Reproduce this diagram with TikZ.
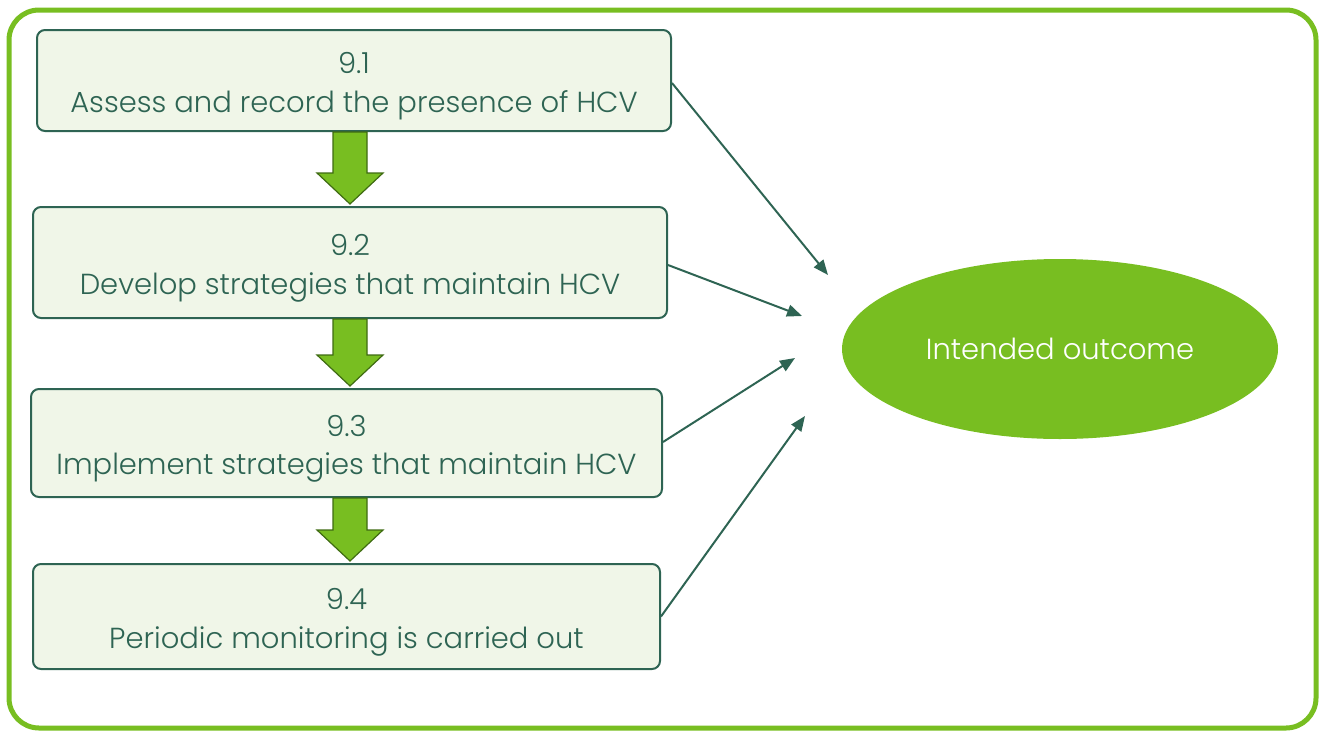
\documentclass[tikz,border=0pt]{standalone}
\usepackage{fontspec}
\setmainfont{Poppins Light}
\usetikzlibrary{shapes.geometric,arrows.meta,calc}
\definecolor{leaf}{HTML}{78BE21}
\definecolor{leafdark}{HTML}{3F6B12}
\definecolor{pine}{HTML}{2E6453}
\definecolor{pale}{HTML}{F0F6E8}
\tikzset{
  frame/.style={draw=leaf, line width=5pt, rounded corners=30pt},
  stepbox/.style={draw=pine, fill=pale, line width=2pt, rounded corners=8pt,
    align=center, text=pine, font=\fontsize{29}{38.5}\selectfont, inner sep=0pt,
    execute at begin node={\rule{0pt}{71pt}}},
  outcome/.style={ellipse, fill=leaf, text=white, inner sep=0pt,
    minimum width=436pt, minimum height=180pt, font=\fontsize{29}{34}\selectfont},
  blockarrow/.style={fill=leaf, draw=leafdark, line width=1.2pt, line join=miter},
  link/.style={draw=pine, line width=2pt, -{Triangle[length=15pt,width=12pt]}}
}
\begin{document}
\begin{tikzpicture}[x=1pt,y=-1pt]
\useasboundingbox (0,0) rectangle (1319,731);
\draw[frame] (9,10) rectangle (1316,728);

\node[stepbox, minimum width=634pt, minimum height=101pt] (b1) at (354,80.5) {9.1\\Assess and record the presence of HCV};
\node[stepbox, minimum width=634pt, minimum height=111pt] (b2) at (350,262.5) {9.2\\Develop strategies that maintain HCV};
\node[stepbox, minimum width=631pt, minimum height=108pt] (b3) at (346.5,443) {9.3\\Implement strategies that maintain HCV};
\node[stepbox, minimum width=627pt, minimum height=105pt] (b4) at (346.5,616.5) {9.4\\Periodic monitoring is carried out};

\node[outcome] (out) at (1060,349) {Intended outcome};

% vertical axis of the block arrows
\coordinate (ax) at (350,0);
\foreach \a/\b in {b1/b2, b2/b3, b3/b4}{
  \draw[blockarrow]
    ($(\a.south -| ax)+(-17,0)$) -- ($(\b.north -| ax)+(-17,-33)$)
    -- ($(\b.north -| ax)+(-33,-33)$) -- ($(\b.north -| ax)+(0,-2)$)
    -- ($(\b.north -| ax)+(33,-33)$) -- ($(\b.north -| ax)+(17,-33)$)
    -- ($(\a.south -| ax)+(17,0)$) -- cycle;
}

% free ends of the links, just short of the outcome
\coordinate (t1) at (828,275);
\coordinate (t2) at (802,316);
\coordinate (t3) at (795,358);
\coordinate (t4) at (805,416);
\coordinate (s1) at ($(b1.east)+(0,2.5)$);
\coordinate (s2) at ($(b2.east)+(0,2.5)$);
\coordinate (s3) at ($(b3.east)+(0,-1)$);
\coordinate (s4) at ($(b4.east)+(0,0)$);
\draw[link] (s1) -- (t1);
\draw[link] (s2) -- (t2);
\draw[link] (s3) -- (t3);
\draw[link] (s4) -- (t4);
\end{tikzpicture}
\end{document}
